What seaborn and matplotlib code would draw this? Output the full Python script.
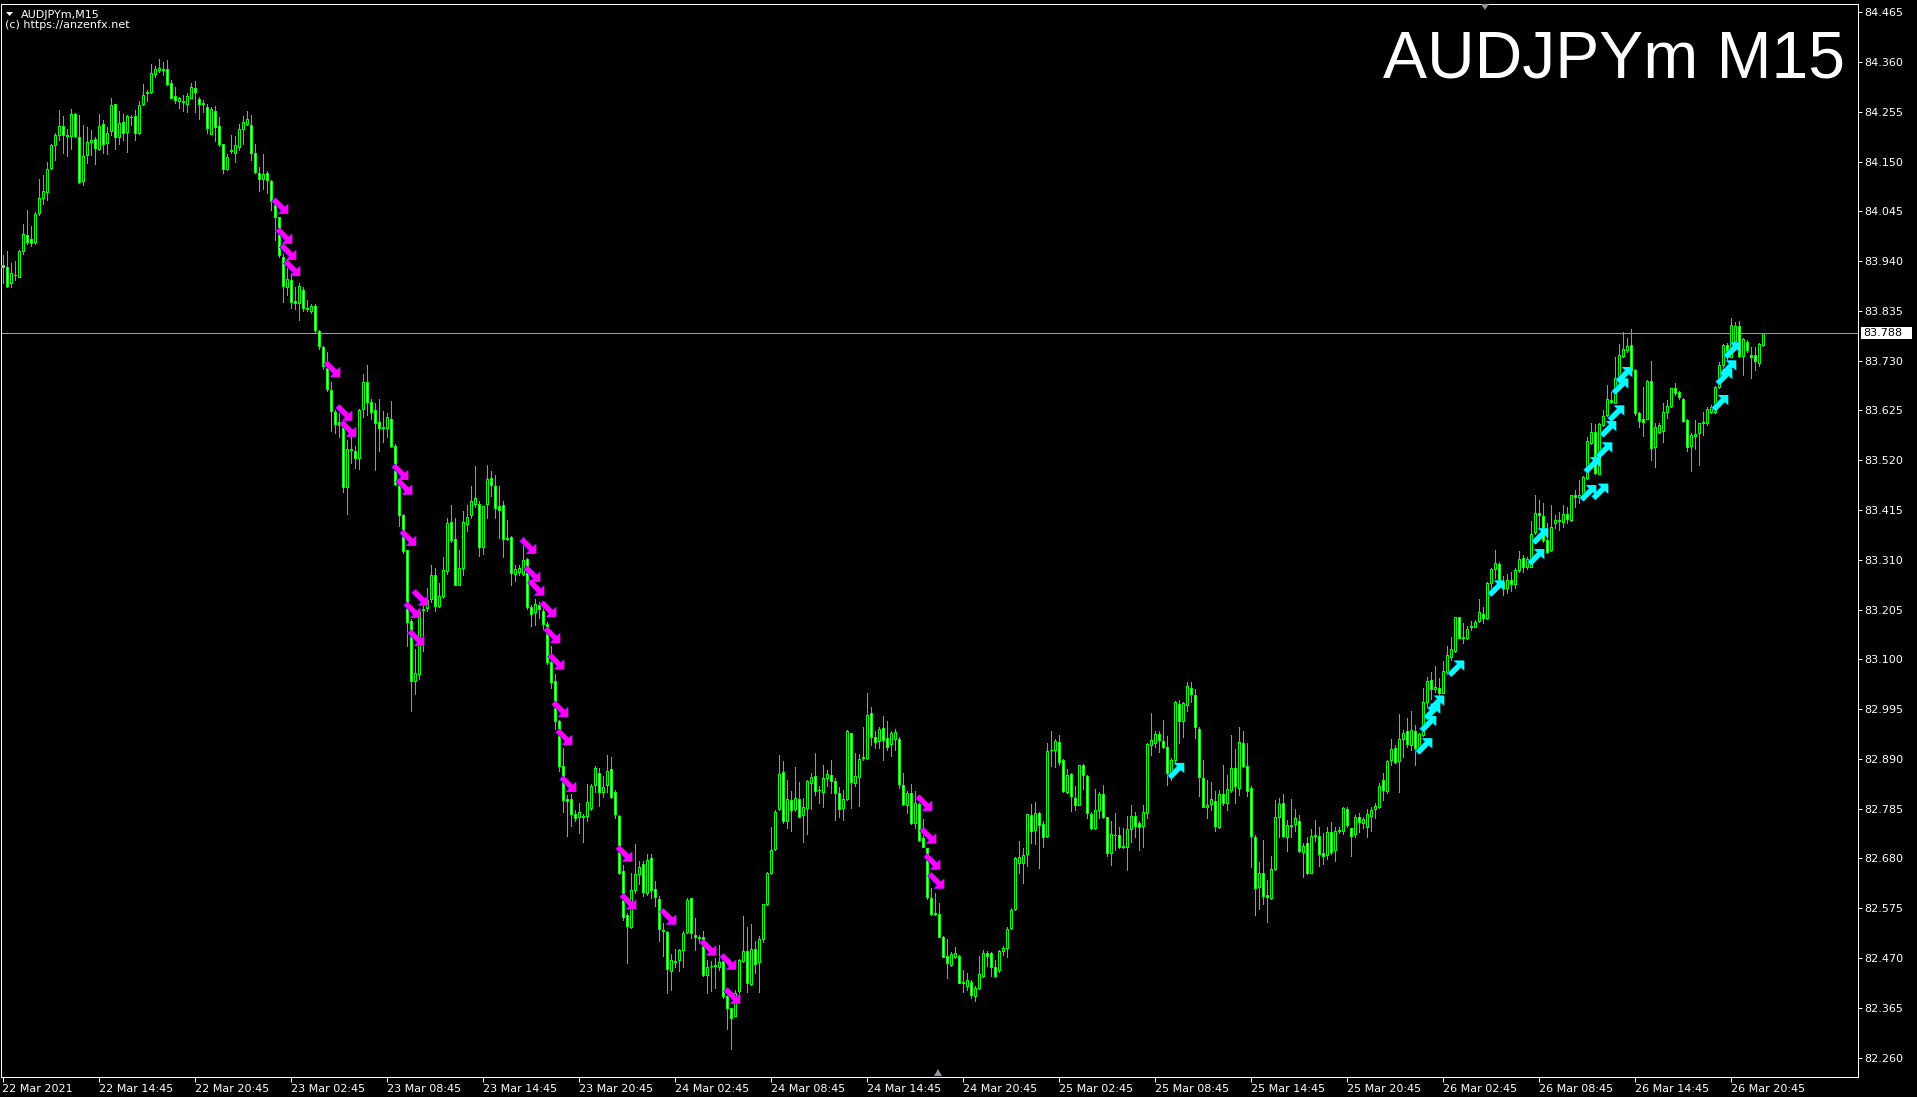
import matplotlib
matplotlib.use("Agg")
import matplotlib.pyplot as plt
from matplotlib.path import Path
from matplotlib.markers import MarkerStyle
from matplotlib.patches import Rectangle, Polygon
import matplotlib.transforms as mtransforms
import numpy as np
import pandas as pd
import seaborn as sns

# ---------------- data (AUDJPYm, M15) ----------------
symbol = "AUDJPYm"
timeframe = "M15"
header_line1 = "AUDJPYm,M15"
header_line2 = "(c) https://anzenfx.net"
last_price = 83.788

opens = [
83.931, 83.928, 83.893, 83.910, 83.907, 83.962, 83.996, 83.986, 83.981, 84.042,
84.074, 84.085, 84.137, 84.184, 84.207, 84.226, 84.206, 84.204, 84.251, 84.202,
84.109, 84.163, 84.192, 84.197, 84.177, 84.230, 84.190, 84.215, 84.272, 84.202,
84.234, 84.213, 84.244, 84.247, 84.211, 84.272, 84.294, 84.297, 84.334, 84.343,
84.345, 84.346, 84.315, 84.289, 84.278, 84.276, 84.272, 84.285, 84.306, 84.281,
84.272, 84.264, 84.209, 84.256, 84.226, 84.186, 84.134, 84.172, 84.169, 84.180,
84.219, 84.230, 84.228, 84.169, 84.125, 84.114, 84.126, 84.108, 84.070, 84.032,
83.949, 83.886, 83.901, 83.855, 83.851, 83.880, 83.841, 83.835, 83.846, 83.793,
83.758, 83.714, 83.669, 83.622, 83.600, 83.593, 83.463, 83.544, 83.540, 83.524,
83.627, 83.685, 83.642, 83.626, 83.601, 83.589, 83.589, 83.608, 83.549, 83.470,
83.404, 83.330, 83.181, 83.055, 83.070, 83.205, 83.208, 83.228, 83.278, 83.213,
83.234, 83.287, 83.389, 83.353, 83.257, 83.293, 83.385, 83.404, 83.428, 83.427,
83.338, 83.427, 83.483, 83.465, 83.424, 83.425, 83.354, 83.358, 83.281, 83.285,
83.281, 83.312, 83.211, 83.200, 83.215, 83.203, 83.174, 83.095, 83.055, 82.969,
82.875, 82.805, 82.805, 82.774, 82.768, 82.770, 82.770, 82.786, 82.836, 82.860,
82.821, 82.834, 82.869, 82.820, 82.770, 82.654, 82.560, 82.535, 82.613, 82.648,
82.668, 82.608, 82.681, 82.615, 82.594, 82.530, 82.525, 82.443, 82.463, 82.465,
82.488, 82.525, 82.597, 82.519, 82.514, 82.514, 82.435, 82.454, 82.454, 82.451,
82.463, 82.389, 82.364, 82.348, 82.401, 82.463, 82.484, 82.415, 82.489, 82.462,
82.511, 82.584, 82.649, 82.700, 82.784, 82.862, 82.758, 82.803, 82.784, 82.805,
82.771, 82.786, 82.840, 82.853, 82.824, 82.820, 82.849, 82.856, 82.844, 82.818,
82.786, 82.805, 82.944, 82.840, 82.852, 82.892, 82.892, 82.986, 82.936, 82.927,
82.955, 82.934, 82.921, 82.932, 82.932, 82.836, 82.792, 82.818, 82.754, 82.794,
82.723, 82.702, 82.596, 82.566, 82.562, 82.514, 82.475, 82.456, 82.472, 82.475,
82.420, 82.410, 82.420, 82.389, 82.406, 82.433, 82.480, 82.480, 82.451, 82.444,
82.484, 82.491, 82.533, 82.573, 82.670, 82.671, 82.689, 82.772, 82.740, 82.775,
82.753, 82.728, 82.908, 82.909, 82.925, 82.888, 82.821, 82.858, 82.807, 82.793,
82.878, 82.854, 82.774, 82.744, 82.782, 82.815, 82.767, 82.692, 82.730, 82.730,
82.706, 82.704, 82.742, 82.770, 82.754, 82.749, 82.775, 82.920, 82.924, 82.942,
82.928, 82.916, 82.860, 82.887, 83.005, 82.969, 83.004, 83.040, 83.025, 82.953,
82.849, 82.788, 82.795, 82.802, 82.746, 82.815, 82.798, 82.825, 82.870, 82.828,
82.923, 82.874, 82.828, 82.725, 82.619, 82.650, 82.602, 82.596, 82.657, 82.768,
82.798, 82.726, 82.751, 82.752, 82.760, 82.693, 82.712, 82.650, 82.727, 82.727,
82.692, 82.687, 82.735, 82.697, 82.739, 82.737, 82.784, 82.744, 82.731, 82.767,
82.754, 82.746, 82.770, 82.784, 82.789, 82.846, 82.823, 82.888, 82.914, 82.886,
82.932, 82.949, 82.919, 82.949, 82.916, 82.940, 83.011, 83.056, 83.037, 83.039,
83.030, 83.073, 83.104, 83.118, 83.189, 83.146, 83.144, 83.168, 83.169, 83.180,
83.196, 83.187, 83.262, 83.291, 83.301, 83.264, 83.250, 83.268, 83.258, 83.288,
83.313, 83.295, 83.295, 83.369, 83.408, 83.403, 83.352, 83.331, 83.387, 83.394,
83.390, 83.406, 83.394, 83.446, 83.443, 83.443, 83.482, 83.557, 83.579, 83.492,
83.594, 83.615, 83.648, 83.641, 83.693, 83.740, 83.752, 83.763, 83.710, 83.620,
83.606, 83.608, 83.688, 83.547, 83.580, 83.582, 83.622, 83.635, 83.672, 83.663,
83.650, 83.605, 83.550, 83.571, 83.577, 83.599, 83.598, 83.622, 83.622, 83.674,
83.721, 83.764, 83.738, 83.772, 83.803, 83.740, 83.769, 83.741, 83.743, 83.726,
83.762]

highs = [
83.953, 83.961, 83.935, 83.941, 83.963, 84.018, 84.047, 84.014, 84.044, 84.114,
84.121, 84.148, 84.187, 84.211, 84.258, 84.246, 84.218, 84.260, 84.253, 84.248,
84.227, 84.222, 84.216, 84.202, 84.250, 84.237, 84.223, 84.285, 84.272, 84.256,
84.250, 84.248, 84.248, 84.258, 84.277, 84.313, 84.301, 84.355, 84.352, 84.367,
84.360, 84.364, 84.322, 84.308, 84.287, 84.290, 84.294, 84.316, 84.320, 84.287,
84.279, 84.272, 84.265, 84.268, 84.244, 84.187, 84.165, 84.206, 84.204, 84.230,
84.246, 84.257, 84.248, 84.188, 84.139, 84.166, 84.130, 84.112, 84.074, 84.033,
83.956, 83.925, 83.914, 83.886, 83.893, 83.885, 83.858, 83.850, 83.850, 83.795,
83.760, 83.749, 83.686, 83.626, 83.620, 83.597, 83.562, 83.569, 83.550, 83.628,
83.702, 83.720, 83.649, 83.640, 83.649, 83.624, 83.619, 83.645, 83.554, 83.472,
83.406, 83.330, 83.186, 83.121, 83.207, 83.230, 83.250, 83.300, 83.292, 83.261,
83.316, 83.398, 83.425, 83.399, 83.330, 83.413, 83.425, 83.466, 83.507, 83.433,
83.424, 83.509, 83.498, 83.488, 83.466, 83.433, 83.394, 83.360, 83.298, 83.300,
83.359, 83.314, 83.215, 83.228, 83.222, 83.215, 83.179, 83.129, 83.070, 82.973,
82.912, 82.813, 82.817, 82.782, 82.797, 82.774, 82.838, 82.838, 82.875, 82.871,
82.853, 82.899, 82.894, 82.825, 82.772, 82.667, 82.565, 82.649, 82.711, 82.674,
82.675, 82.690, 82.689, 82.633, 82.600, 82.544, 82.526, 82.478, 82.489, 82.489,
82.526, 82.596, 82.597, 82.554, 82.519, 82.526, 82.466, 82.464, 82.470, 82.498,
82.467, 82.393, 82.364, 82.403, 82.467, 82.559, 82.535, 82.542, 82.505, 82.516,
82.585, 82.651, 82.746, 82.783, 82.899, 82.885, 82.845, 82.823, 82.873, 82.842,
82.807, 82.846, 82.860, 82.902, 82.833, 82.878, 82.866, 82.888, 82.849, 82.830,
82.825, 82.951, 82.944, 82.902, 82.901, 82.958, 83.029, 83.000, 82.948, 82.958,
82.981, 82.969, 82.948, 82.953, 82.937, 82.860, 82.823, 82.837, 82.822, 82.798,
82.763, 82.703, 82.617, 82.607, 82.587, 82.517, 82.510, 82.482, 82.494, 82.477,
82.445, 82.439, 82.424, 82.411, 82.475, 82.487, 82.485, 82.482, 82.466, 82.487,
82.496, 82.536, 82.575, 82.683, 82.716, 82.703, 82.774, 82.794, 82.799, 82.779,
82.758, 82.923, 82.949, 82.931, 82.941, 82.889, 82.868, 82.860, 82.833, 82.877,
82.879, 82.856, 82.777, 82.826, 82.821, 82.835, 82.768, 82.759, 82.775, 82.746,
82.745, 82.770, 82.793, 82.779, 82.758, 82.793, 82.923, 82.986, 82.948, 82.948,
82.972, 82.939, 82.891, 83.013, 83.014, 83.011, 83.052, 83.052, 83.037, 82.958,
82.888, 82.846, 82.842, 82.823, 82.824, 82.877, 82.856, 82.940, 82.911, 82.957,
82.949, 82.924, 82.832, 82.730, 82.673, 82.719, 82.635, 82.685, 82.803, 82.808,
82.817, 82.761, 82.805, 82.784, 82.772, 82.712, 82.726, 82.742, 82.761, 82.747,
82.733, 82.747, 82.756, 82.746, 82.747, 82.789, 82.789, 82.745, 82.772, 82.775,
82.768, 82.784, 82.788, 82.796, 82.839, 82.860, 82.888, 82.933, 82.919, 82.985,
82.951, 82.976, 82.991, 82.961, 82.945, 83.040, 83.063, 83.074, 83.086, 83.060,
83.097, 83.128, 83.148, 83.190, 83.190, 83.176, 83.170, 83.181, 83.184, 83.227,
83.210, 83.264, 83.292, 83.331, 83.306, 83.275, 83.280, 83.285, 83.292, 83.328,
83.320, 83.316, 83.392, 83.447, 83.437, 83.429, 83.387, 83.425, 83.404, 83.411,
83.425, 83.422, 83.447, 83.457, 83.478, 83.487, 83.570, 83.598, 83.596, 83.598,
83.626, 83.679, 83.664, 83.738, 83.766, 83.791, 83.777, 83.796, 83.712, 83.622,
83.674, 83.689, 83.730, 83.598, 83.598, 83.641, 83.647, 83.673, 83.682, 83.667,
83.652, 83.606, 83.577, 83.605, 83.599, 83.622, 83.633, 83.636, 83.676, 83.728,
83.766, 83.768, 83.819, 83.812, 83.814, 83.778, 83.773, 83.759, 83.758, 83.768,
83.789]

lows = [
83.893, 83.886, 83.886, 83.900, 83.906, 83.956, 83.977, 83.972, 83.976, 84.037,
84.060, 84.069, 84.135, 84.153, 84.195, 84.168, 84.162, 84.176, 84.202, 84.104,
84.100, 84.147, 84.163, 84.145, 84.174, 84.167, 84.166, 84.206, 84.176, 84.188,
84.195, 84.171, 84.227, 84.195, 84.209, 84.269, 84.277, 84.294, 84.329, 84.339,
84.332, 84.311, 84.283, 84.274, 84.263, 84.256, 84.255, 84.283, 84.255, 84.239,
84.255, 84.211, 84.208, 84.194, 84.182, 84.125, 84.132, 84.167, 84.149, 84.174,
84.188, 84.227, 84.154, 84.125, 84.088, 84.092, 84.083, 84.048, 83.984, 83.949,
83.854, 83.868, 83.842, 83.840, 83.816, 83.835, 83.835, 83.830, 83.790, 83.755,
83.712, 83.667, 83.581, 83.577, 83.569, 83.452, 83.407, 83.515, 83.503, 83.502,
83.612, 83.615, 83.608, 83.499, 83.540, 83.558, 83.569, 83.548, 83.468, 83.382,
83.324, 83.129, 82.991, 83.027, 83.058, 83.117, 83.203, 83.222, 83.203, 83.211,
83.230, 83.281, 83.347, 83.256, 83.256, 83.277, 83.371, 83.398, 83.421, 83.317,
83.322, 83.399, 83.445, 83.398, 83.355, 83.316, 83.351, 83.257, 83.265, 83.277,
83.277, 83.207, 83.170, 83.172, 83.187, 83.164, 83.090, 83.039, 82.953, 82.864,
82.778, 82.727, 82.749, 82.758, 82.733, 82.715, 82.758, 82.782, 82.821, 82.790,
82.810, 82.821, 82.807, 82.765, 82.647, 82.551, 82.459, 82.533, 82.607, 82.627,
82.600, 82.603, 82.596, 82.579, 82.505, 82.475, 82.396, 82.402, 82.451, 82.442,
82.452, 82.523, 82.512, 82.488, 82.502, 82.433, 82.396, 82.400, 82.407, 82.445,
82.386, 82.320, 82.278, 82.347, 82.396, 82.461, 82.399, 82.414, 82.438, 82.398,
82.504, 82.582, 82.648, 82.698, 82.783, 82.755, 82.744, 82.737, 82.781, 82.767,
82.714, 82.732, 82.784, 82.814, 82.797, 82.788, 82.833, 82.818, 82.762, 82.767,
82.762, 82.804, 82.786, 82.833, 82.790, 82.888, 82.890, 82.920, 82.913, 82.913,
82.887, 82.909, 82.897, 82.909, 82.828, 82.793, 82.775, 82.753, 82.744, 82.716,
82.704, 82.594, 82.561, 82.561, 82.515, 82.472, 82.427, 82.453, 82.470, 82.417,
82.399, 82.403, 82.385, 82.380, 82.405, 82.431, 82.453, 82.432, 82.431, 82.441,
82.477, 82.472, 82.531, 82.572, 82.650, 82.629, 82.665, 82.712, 82.711, 82.659,
82.704, 82.726, 82.874, 82.872, 82.877, 82.821, 82.819, 82.781, 82.782, 82.792,
82.827, 82.765, 82.742, 82.742, 82.765, 82.766, 82.686, 82.666, 82.698, 82.702,
82.702, 82.656, 82.714, 82.726, 82.698, 82.704, 82.765, 82.898, 82.916, 82.905,
82.912, 82.835, 82.846, 82.884, 82.924, 82.937, 82.992, 83.011, 82.934, 82.812,
82.788, 82.765, 82.782, 82.739, 82.744, 82.793, 82.782, 82.821, 82.798, 82.814,
82.872, 82.812, 82.661, 82.561, 82.573, 82.585, 82.545, 82.594, 82.656, 82.726,
82.726, 82.696, 82.726, 82.739, 82.694, 82.640, 82.647, 82.649, 82.716, 82.664,
82.668, 82.678, 82.689, 82.675, 82.733, 82.732, 82.747, 82.685, 82.725, 82.735,
82.744, 82.726, 82.737, 82.765, 82.787, 82.803, 82.819, 82.877, 82.882, 82.821,
82.895, 82.916, 82.909, 82.877, 82.909, 82.938, 83.000, 83.016, 83.032, 83.007,
83.028, 83.070, 83.099, 83.116, 83.144, 83.134, 83.143, 83.162, 83.168, 83.178,
83.176, 83.185, 83.236, 83.271, 83.255, 83.236, 83.240, 83.245, 83.250, 83.285,
83.285, 83.290, 83.294, 83.364, 83.380, 83.348, 83.324, 83.329, 83.376, 83.373,
83.380, 83.387, 83.392, 83.421, 83.429, 83.437, 83.480, 83.555, 83.491, 83.491,
83.593, 83.613, 83.641, 83.640, 83.691, 83.738, 83.749, 83.709, 83.615, 83.591,
83.571, 83.606, 83.520, 83.506, 83.578, 83.559, 83.610, 83.633, 83.657, 83.650,
83.601, 83.540, 83.498, 83.543, 83.510, 83.573, 83.594, 83.619, 83.620, 83.672,
83.717, 83.731, 83.737, 83.770, 83.738, 83.700, 83.749, 83.693, 83.710, 83.719,
83.761]

closes = [
83.928, 83.888, 83.914, 83.911, 83.962, 83.998, 83.981, 83.979, 84.039, 84.074,
84.087, 84.135, 84.184, 84.207, 84.224, 84.206, 84.204, 84.250, 84.204, 84.107,
84.161, 84.192, 84.195, 84.179, 84.226, 84.188, 84.211, 84.270, 84.201, 84.232,
84.211, 84.246, 84.244, 84.211, 84.270, 84.291, 84.297, 84.336, 84.345, 84.348,
84.343, 84.313, 84.285, 84.279, 84.284, 84.277, 84.288, 84.308, 84.297, 84.272,
84.273, 84.220, 84.260, 84.223, 84.186, 84.135, 84.159, 84.174, 84.184, 84.218,
84.234, 84.239, 84.169, 84.127, 84.114, 84.123, 84.112, 84.067, 84.032, 83.953,
83.888, 83.903, 83.854, 83.851, 83.887, 83.841, 83.838, 83.846, 83.794, 83.761,
83.718, 83.671, 83.624, 83.597, 83.595, 83.463, 83.544, 83.542, 83.524, 83.626,
83.686, 83.643, 83.622, 83.599, 83.589, 83.591, 83.611, 83.550, 83.470, 83.404,
83.329, 83.179, 83.055, 83.072, 83.201, 83.207, 83.225, 83.278, 83.212, 83.234,
83.289, 83.387, 83.351, 83.257, 83.292, 83.390, 83.400, 83.435, 83.440, 83.338,
83.424, 83.480, 83.468, 83.419, 83.416, 83.353, 83.355, 83.283, 83.291, 83.292,
83.310, 83.211, 83.195, 83.217, 83.207, 83.174, 83.095, 83.052, 82.969, 82.875,
82.803, 82.801, 82.774, 82.766, 82.778, 82.768, 82.800, 82.832, 82.871, 82.821,
82.831, 82.865, 82.810, 82.774, 82.649, 82.556, 82.537, 82.614, 82.647, 82.663,
82.609, 82.677, 82.613, 82.598, 82.531, 82.527, 82.447, 82.465, 82.462, 82.486,
82.523, 82.593, 82.523, 82.514, 82.513, 82.435, 82.452, 82.454, 82.456, 82.462,
82.389, 82.364, 82.343, 82.396, 82.465, 82.484, 82.417, 82.489, 82.458, 82.510,
82.584, 82.649, 82.698, 82.779, 82.858, 82.758, 82.805, 82.783, 82.807, 82.768,
82.788, 82.843, 82.851, 82.823, 82.824, 82.849, 82.858, 82.844, 82.818, 82.784,
82.805, 82.948, 82.842, 82.853, 82.890, 82.894, 82.983, 82.937, 82.925, 82.953,
82.929, 82.916, 82.944, 82.946, 82.837, 82.794, 82.818, 82.754, 82.797, 82.718,
82.705, 82.598, 82.563, 82.563, 82.515, 82.473, 82.459, 82.479, 82.480, 82.418,
82.417, 82.424, 82.392, 82.406, 82.437, 82.480, 82.475, 82.452, 82.432, 82.485,
82.491, 82.531, 82.572, 82.681, 82.683, 82.688, 82.773, 82.737, 82.775, 82.751,
82.726, 82.907, 82.909, 82.928, 82.884, 82.823, 82.856, 82.812, 82.793, 82.877,
82.856, 82.775, 82.744, 82.782, 82.815, 82.768, 82.692, 82.732, 82.729, 82.705,
82.704, 82.742, 82.770, 82.749, 82.746, 82.777, 82.921, 82.929, 82.942, 82.929,
82.916, 82.860, 82.888, 83.010, 82.969, 83.007, 83.043, 83.026, 82.957, 82.851,
82.789, 82.793, 82.805, 82.749, 82.817, 82.798, 82.826, 82.870, 82.832, 82.925,
82.875, 82.823, 82.727, 82.618, 82.649, 82.601, 82.598, 82.657, 82.767, 82.795,
82.727, 82.751, 82.749, 82.765, 82.696, 82.707, 82.649, 82.727, 82.729, 82.689,
82.685, 82.735, 82.693, 82.739, 82.740, 82.786, 82.751, 82.728, 82.768, 82.756,
82.763, 82.774, 82.782, 82.791, 82.832, 82.824, 82.886, 82.910, 82.884, 82.931,
82.944, 82.921, 82.952, 82.914, 82.942, 83.011, 83.054, 83.037, 83.042, 83.028,
83.075, 83.109, 83.121, 83.189, 83.146, 83.147, 83.165, 83.170, 83.178, 83.199,
83.187, 83.262, 83.290, 83.303, 83.264, 83.250, 83.268, 83.258, 83.288, 83.312,
83.295, 83.311, 83.364, 83.408, 83.404, 83.352, 83.327, 83.380, 83.394, 83.392,
83.406, 83.395, 83.446, 83.443, 83.446, 83.485, 83.560, 83.579, 83.494, 83.596,
83.614, 83.649, 83.643, 83.693, 83.742, 83.754, 83.761, 83.710, 83.619, 83.603,
83.601, 83.687, 83.545, 83.591, 83.594, 83.622, 83.634, 83.672, 83.661, 83.653,
83.603, 83.548, 83.574, 83.576, 83.598, 83.601, 83.629, 83.633, 83.675, 83.721,
83.763, 83.737, 83.806, 83.803, 83.740, 83.775, 83.752, 83.737, 83.730, 83.766,
83.788]

# signal arrows: bar index of the signal and price level of the arrow
sell_bars = [68, 69, 70, 71, 81, 84, 85, 98, 99, 100, 101, 102, 103,
             130, 131, 132, 135, 136, 137, 138, 139, 140, 154, 155, 165,
             175, 180, 181, 229, 230, 231, 232]
sell_prices = [84.056, 83.993, 83.959, 83.925, 83.712, 83.620, 83.586, 83.495,
               83.464, 83.356, 83.204, 83.145, 83.230, 83.339, 83.280, 83.251,
               83.206, 83.151, 83.095, 82.995, 82.936, 82.837, 82.690, 82.589,
               82.557, 82.492, 82.462, 82.390, 82.797, 82.728, 82.673, 82.633]
buy_bars = [292, 354, 355, 356, 357, 362, 372, 382, 383, 395, 396, 398, 399,
            400, 402, 403, 404, 428, 429, 430, 431]
buy_prices = [82.865, 82.917, 82.964, 82.990, 83.007, 83.081, 83.250, 83.316,
              83.360, 83.451, 83.510, 83.454, 83.541, 83.586, 83.619, 83.676,
              83.700, 83.641, 83.696, 83.714, 83.752]

x_tick_bars = [0, 24, 48, 72, 96, 120, 144, 168, 192, 216, 240, 264, 288,
               312, 336, 360, 384, 408, 432]
x_tick_labels = ["22 Mar 2021", "22 Mar 14:45", "22 Mar 20:45", "23 Mar 02:45",
                 "23 Mar 08:45", "23 Mar 14:45", "23 Mar 20:45", "24 Mar 02:45",
                 "24 Mar 08:45", "24 Mar 14:45", "24 Mar 20:45", "25 Mar 02:45",
                 "25 Mar 08:45", "25 Mar 14:45", "25 Mar 20:45", "26 Mar 02:45",
                 "26 Mar 08:45", "26 Mar 14:45", "26 Mar 20:45"]
y_ticks = [84.465, 84.360, 84.255, 84.150, 84.045, 83.940, 83.835, 83.730,
           83.625, 83.520, 83.415, 83.310, 83.205, 83.100, 82.995, 82.890,
           82.785, 82.680, 82.575, 82.470, 82.365, 82.260]

n = len(closes)
assert len(opens) == n and len(highs) == n and len(lows) == n
df = pd.DataFrame({"bar": np.arange(n), "open": opens, "high": highs,
                   "low": lows, "close": closes})
df["bull"] = df["close"] >= df["open"]

# ---------------- style ----------------
sns.set_theme(style="dark", rc={
    "figure.facecolor": "black", "axes.facecolor": "black",
    "savefig.facecolor": "black", "axes.edgecolor": "white",
    "text.color": "white", "xtick.color": "white", "ytick.color": "white",
    "axes.grid": False})
plt.rcParams["font.family"] = ["DejaVu Sans"]

LIME = "#00ff00"
W, H = 1917, 1097
L_PX, R_PX, T_PX, B_PX = 1, 1858, 4, 1077      # plot frame in pixels
BAR0_PX, BAR_STEP = 2.5, 4.0                    # pixel x of bar 0, pixels per bar
TOP_TICK_PX, BOT_TICK_PX = 12.2, 1057.6         # pixel y of first/last price tick

fig = plt.figure(figsize=(W / 100, H / 100), dpi=100)
ax = fig.add_axes([L_PX / W, 1 - B_PX / H, (R_PX - L_PX) / W, (B_PX - T_PX) / H])
ax.set_facecolor("black")

ax.set_xlim((L_PX - BAR0_PX) / BAR_STEP, (R_PX - BAR0_PX) / BAR_STEP)
ppu = (BOT_TICK_PX - TOP_TICK_PX) / (y_ticks[0] - y_ticks[-1])
ax.set_ylim(y_ticks[-1] - (B_PX - BOT_TICK_PX) / ppu,
            y_ticks[0] + (TOP_TICK_PX - T_PX) / ppu)

# last price line
ax.axhline(last_price, color="#a0a0a0", linewidth=0.72, antialiased=False, zorder=1)

# candles: wicks then bodies
ax.vlines(df["bar"], df["low"], df["high"], colors=LIME, linewidth=0.72,
          antialiased=False, zorder=2)
body_bottom = np.minimum(df["open"], df["close"])
body_height = np.abs(df["close"] - df["open"])
ax.bar(df["bar"], body_height, bottom=body_bottom, width=0.5,
       color=np.where(df["bull"], "black", "white"), edgecolor=LIME,
       linewidth=0.72, antialiased=False, zorder=3)

# arrow markers (bold Wingdings-like diagonal arrows)
dn = [(-0.617, 1.083), (0.583, -0.117), (1.0, 0.3), (1.0, -1.0), (-0.3, -1.0),
      (0.117, -0.583), (-1.083, 0.617), (-0.617, 1.083)]
up = [(x, -y) for x, y in dn]
down_marker = MarkerStyle(Path(dn, closed=True))
up_marker = MarkerStyle(Path(up, closed=True))
ARROW_SHIFT = 1.5
SHADOW = 0.25   # one pixel to the left, in bar units
sell_df = pd.DataFrame({"x": np.array(sell_bars) + ARROW_SHIFT, "y": sell_prices})
buy_df = pd.DataFrame({"x": np.array(buy_bars) + ARROW_SHIFT, "y": buy_prices})
sns.scatterplot(x=sell_df["x"] - SHADOW, y=sell_df["y"], marker=down_marker, s=150,
                color="#3a10c8", linewidth=0, edgecolor="none", ax=ax,
                zorder=4, legend=False)
sns.scatterplot(data=sell_df, x="x", y="y", marker=down_marker, s=150,
                color="#ff00ff", linewidth=0, edgecolor="none", ax=ax,
                zorder=5, legend=False)
sns.scatterplot(x=buy_df["x"] - SHADOW, y=buy_df["y"], marker=up_marker, s=150,
                color="#0a6fa8", linewidth=0, edgecolor="none", ax=ax,
                zorder=4, legend=False)
sns.scatterplot(data=buy_df, x="x", y="y", marker=up_marker, s=150,
                color="#00ffff", linewidth=0, edgecolor="none", ax=ax,
                zorder=5, legend=False)

# axes, ticks
for s in ax.spines.values():
    s.set_color("white")
    s.set_linewidth(0.72)
ax.set_xlabel("")
ax.set_ylabel("")
ax.set_xticks(x_tick_bars)
ax.set_xticklabels(x_tick_labels, ha="left")
ax.set_yticks(y_ticks)
ax.set_yticklabels([f"{v:.3f}" for v in y_ticks])
ax.tick_params(axis="x", bottom=True, top=False, direction="out", length=3.5,
               width=0.72, color="white", labelcolor="white", labelsize=8, pad=1.5)
ax.tick_params(axis="y", left=False, right=True, labelleft=False, labelright=True,
               direction="out", length=3, width=0.72, color="white",
               labelcolor="white", labelsize=8, pad=1.5)

# last price tag on the price scale
fig.canvas.draw()
y_disp = ax.transData.transform((0, last_price))[1]
fig.add_artist(Rectangle((R_PX + 3, y_disp - 6), 51, 12, facecolor="white",
                         edgecolor="none", transform=mtransforms.IdentityTransform()))
fig.text((R_PX + 5) / W, y_disp / H, f"{last_price:.3f}", color="black",
         fontsize=8, ha="left", va="center")

# header texts
fig.add_artist(Polygon([(6, H - 12), (13, H - 12), (9.5, H - 16)], closed=True,
                       facecolor="white", edgecolor="none",
                       transform=mtransforms.IdentityTransform()))
fig.text(21 / W, 1 - 18.5 / H, header_line1, color="white", fontsize=8,
         ha="left", va="baseline")
fig.text(5 / W, 1 - 28.5 / H, header_line2, color="white", fontsize=8,
         ha="left", va="baseline")
fig.text(1845 / W, 1 - 78 / H, f"{symbol} {timeframe}", color="white",
         fontsize=47.5, ha="right", va="baseline", family="Liberation Sans")

# chart-shift markers
GREY = "#8a949e"
fig.add_artist(Polygon([(1481, H - 4), (1489, H - 4), (1485, H - 10)], closed=True,
                       facecolor=GREY, edgecolor="none",
                       transform=mtransforms.IdentityTransform()))
fig.add_artist(Polygon([(934, H - 1076), (942, H - 1076), (938, H - 1069)], closed=True,
                       facecolor=GREY, edgecolor="none",
                       transform=mtransforms.IdentityTransform()))

fig.savefig("out.png", dpi=100, facecolor="black")
